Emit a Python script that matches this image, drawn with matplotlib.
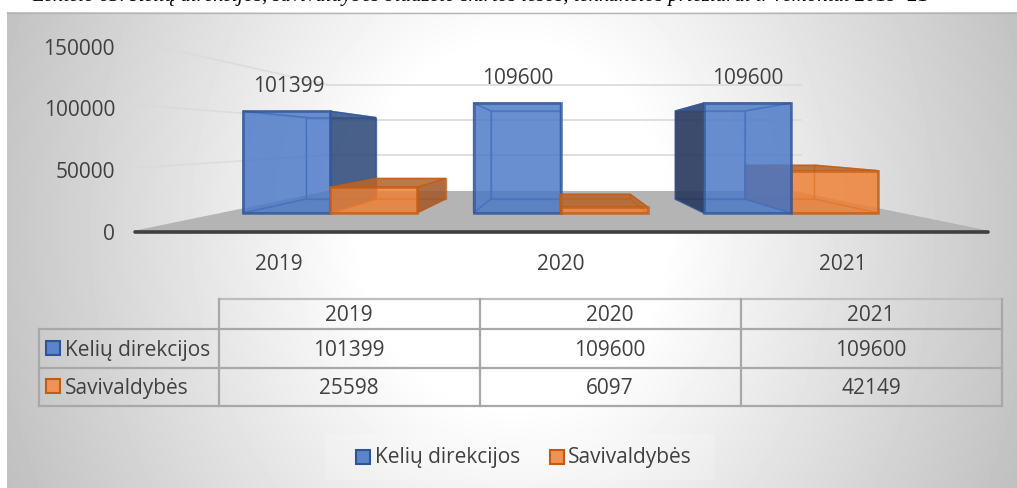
import numpy as np
import matplotlib
matplotlib.use("Agg")
import matplotlib.pyplot as plt
from matplotlib.colors import to_rgba
from matplotlib.patches import Polygon, Rectangle

years = ["2019", "2020", "2021"]
series_names = ["Kelių direkcijos", "Savivaldybės"]
keliu = [101399, 109600, 109600]
saviv = [25598, 6097, 42149]
ticks = [0, 50000, 100000, 150000]
caption = "Lentelė 65. Kelių direkcijos, savivaldybės biudžeto skirtos lėšos, tenkančios priežiūrai ir remontui 2019–21"

W, H = 1017, 488
plt.rcParams['font.family'] = ['Open Sans', 'DejaVu Sans']
fig = plt.figure(figsize=(W / 100, H / 100), dpi=100, facecolor='white')
ax = fig.add_axes([0, 0, 1, 1])

TXT = '#404040'
FS = 15
DY = 2.0


def label(x, y, s, ha='center'):
    ax.text(x, y + DY, s, ha=ha, va='center', fontsize=FS, color=TXT, zorder=10)


# ---- panel gradient
yy, xx = np.mgrid[12:H, 7:W]
r = np.hypot((xx - 512) / 505.0, (yy - 225) / 600.0)
g = np.clip(1.0 - np.clip(r - 0.30, 0, None) / 0.70 * 0.22, 0.72, 1.0)
ax.imshow(g, extent=(7, W, H, 12), cmap='gray', vmin=0, vmax=1, aspect='auto', zorder=0)
ax.set_xlim(0, W)
ax.set_ylim(H, 0)
ax.axis('off')
ax.plot([7, W], [12.5, 12.5], color='#b5b5b5', lw=1, zorder=1)

ax.text(32, 0.5, caption, family='Liberation Serif', style='italic', fontsize=15,
        color='black', va='baseline', ha='left', clip_on=False, zorder=2)

# ---- perspective scale
VX, VY = 560.0, 143.0
FLOOR_Y = 231.0
K = 1 / 792.0
S_BACK = 0.545
S_BAR1, S_BAR2 = 0.795, 0.636
X_L, X_R = 133.0, 990.0


def proj(x, v, s):
    return (VX + (x - VX) * s, VY + (FLOOR_Y - VY) * s - v * K * s)


def world_x(screen_x):
    return VX + (screen_x - VX) / S_BAR1


# ---- floor
ax.add_patch(Polygon([proj(X_L, 0, 1), proj(X_R, 0, 1), proj(X_R, 0, S_BACK), proj(X_L, 0, S_BACK)],
                     closed=True, fc='#b4b4b4', ec='none', zorder=3))
ax.plot([X_L + 2, X_R - 2], [FLOOR_Y + .5, FLOOR_Y + .5], color='#3f3f3f', lw=2.6,
        solid_capstyle='round', zorder=9)

# ---- gridlines on walls
WALL_S = 0.56
back_left = proj(X_L, 0, S_BACK)[0]
back_right = 801.0
for v in ticks[1:]:
    y_back = 190.6 - v * K * WALL_S
    y_front = FLOOR_Y - v * K
    ax.plot([135, back_left], [y_front, y_back], color='#d9d9d9', lw=1.2, alpha=.75, zorder=2)
    ax.plot([back_left, back_right], [y_back, y_back], color='#dcdcdc', lw=1.3, zorder=2)
for v in ticks:
    label(115, FLOOR_Y + 1 - v * K * 0.976, f"{v}", ha='right')


# ---- 3D bars
def bar(x0, x1, v, front, edge, side, top, inner_a, z):
    a = [proj(x0, 0, S_BAR1), proj(x1, 0, S_BAR1), proj(x1, v, S_BAR1), proj(x0, v, S_BAR1)]
    b = [proj(x0, 0, S_BAR2), proj(x1, 0, S_BAR2), proj(x1, v, S_BAR2), proj(x0, v, S_BAR2)]

    def face(p, fc, alpha, lw=1.2, zz=0.0):
        ax.add_patch(Polygon(p, closed=True, facecolor=to_rgba(fc, alpha),
                             edgecolor=to_rgba(edge, .7), lw=lw,
                             joinstyle='miter', zorder=z + zz))

    face(b, front, inner_a, 1.0, 0)
    face([a[0], a[1], b[1], b[0]], front, inner_a, 1.0, .01)
    top_visible = a[2][1] > VY
    left_out = x0 > VX
    right_out = x1 < VX
    left = [a[0], b[0], b[3], a[3]]
    right = [a[1], b[1], b[2], a[2]]
    topf = [a[3], a[2], b[2], b[3]]
    face(left, side if left_out else front, .88 if left_out else inner_a, 1.0, .02)
    face(right, side if right_out else front, .85 if right_out else inner_a, 1.0, .03)
    face(topf, top if top_visible else front, .85 if top_visible else inner_a, 1.0, .04)
    face(a, front, .78, 2.0, .05)


BLUE, BLUE_E, BLUE_S = '#4a78c8', '#2f5597', '#2f4a78'
ORG, ORG_E, ORG_S, ORG_T = '#ee8033', '#c55a11', '#a05a2c', '#b5652c'
BLUE_S2 = '#27365a'
group_left = [243.0, 473.5, 704.0]
BW_SCREEN = 87.0
for i in range(3):
    gx = world_x(group_left[i])
    mid = world_x(group_left[i] + BW_SCREEN)
    end = world_x(group_left[i] + 2 * BW_SCREEN)
    side = BLUE_S2 if i == 2 else BLUE_S
    bar(gx, mid, keliu[i], BLUE, BLUE_E, side, BLUE_S, .22, 4)
    bar(mid, end, saviv[i], ORG, ORG_E, ORG_S, ORG_T, .22, 5 if i < 2 else 3.5)

for x, y, v in zip([289, 518, 748], [84, 77, 77], keliu):
    label(x, y, f"{v}")

for x, s in zip([279, 561, 843], years):
    label(x, 262, s)

# ---- data table
GC = '#a8a8a8'
col_x = [218.5, 479.5, 740.5, 1001.5]
row_y = [299, 329, 367.5, 405.5]
left_x = 38.5
LW = 1.6
for i, y in enumerate(row_y):
    ax.plot([left_x if i else col_x[0], col_x[-1]], [y, y], color=GC if i else '#bdbdbd', lw=LW, zorder=3,
            solid_capstyle='projecting')
for x in col_x:
    ax.plot([x, x], [row_y[0], row_y[-1]], color=GC, lw=LW, zorder=3, solid_capstyle='projecting')
ax.plot([left_x, left_x], [row_y[1], row_y[-1]], color=GC, lw=LW, zorder=3, solid_capstyle='projecting')

col_c = [(col_x[j] + col_x[j + 1]) / 2 for j in range(3)]
row_c = [(row_y[j] + row_y[j + 1]) / 2 for j in range(3)]
for j in range(3):
    label(col_c[j], row_c[0] - .5, years[j])
    label(col_c[j], row_c[1], f"{keliu[j]}")
    label(col_c[j], row_c[2], f"{saviv[j]}")


def swatch(x, y, fc, ec):
    ax.add_patch(Rectangle((x, y), 14, 14, facecolor=fc, edgecolor=ec, lw=1.5, zorder=6))


SW_B, SW_O = '#5b84cb', '#ee9355'
swatch(46, 341, SW_B, BLUE_E)
label(65, row_c[1], series_names[0], ha='left')
swatch(46, 379, SW_O, ORG_E)
label(65, row_c[2], series_names[1], ha='left')

# ---- legend
ax.add_patch(Rectangle((325, 434), 389, 46, facecolor='white', alpha=.18, edgecolor='none', zorder=2))
swatch(356, 450, SW_B, BLUE_E)
label(375, 455, series_names[0], ha='left')
swatch(550, 450, SW_O, ORG_E)
label(568, 455, series_names[1], ha='left')

fig.savefig('out.png', dpi=100, facecolor='white')
